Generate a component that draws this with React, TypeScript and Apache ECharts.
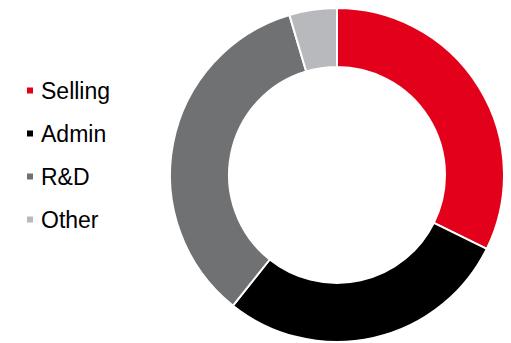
import React, { useEffect, useRef } from "react";
import * as echarts from "echarts";

const categories = ["Selling", "Admin", "R&D", "Other"];
const values = [32.3, 28.4, 34.7, 4.6];
const colors = ["#E2001A", "#000000", "#707173", "#B8B9BD"];

export default function App() {
  const ref = useRef<HTMLDivElement>(null);
  useEffect(() => {
    if (!ref.current) return;
    const chart = echarts.init(ref.current, undefined, { renderer: "svg" });
    chart.setOption({
      animation: false,
      legend: {
        orient: "vertical",
        left: 12,
        top: 66,
        itemWidth: 8,
        itemHeight: 8,
        itemGap: 20,
        icon: "rect",
        data: categories,
        textStyle: {
          fontFamily: "Liberation Sans, Arial, sans-serif",
          fontSize: 23,
          color: "#000",
          padding: [0, 0, 0, 2],
        },
      },
      series: [
        {
          type: "pie",
          center: [329, 167],
          radius: [108, 167],
          startAngle: 90,
          clockwise: true,
          label: { show: false },
          labelLine: { show: false },
          silent: true,
          itemStyle: { borderColor: "#fff", borderWidth: 2 },
          data: categories.map((c, i) => ({
            name: c,
            value: values[i],
            itemStyle: { color: colors[i] },
          })),
        },
      ],
    });
    return () => chart.dispose();
  }, []);
  return <div ref={ref} style={{ width: 495, height: 335 }} />;
}
